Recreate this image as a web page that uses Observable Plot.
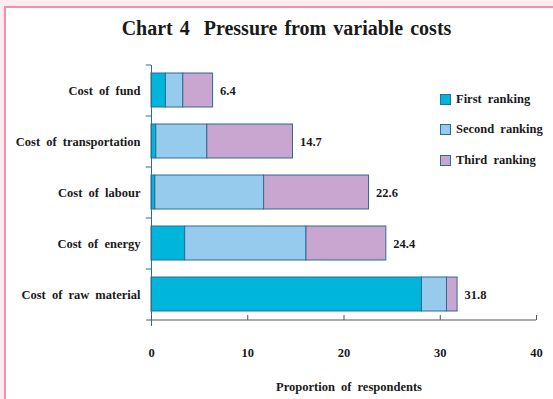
<!DOCTYPE html>
<html><head><meta charset="utf-8">
<script src="https://cdn.jsdelivr.net/npm/d3@7"></script>
<script src="https://cdn.jsdelivr.net/npm/@observablehq/plot@0.6"></script>
<style>
body{margin:0;background:#fdecf0;}
#page{position:relative;width:553px;height:399px;overflow:hidden;background:#fdecf0;font-family:"Liberation Serif","Times New Roman",serif;font-weight:bold;color:#1a1a1a;}
#frame{position:absolute;left:4px;top:6px;width:549px;height:393px;border-left:2px solid #f28fab;border-top:2px solid #f28fab;background:#fff;}
#title{position:absolute;left:7px;top:10px;width:547px;text-align:center;font-size:20px;line-height:20px;word-spacing:2px;}
#chart{position:absolute;left:0;top:0;}
#legend{position:absolute;left:434px;top:76px;font-size:12.5px;word-spacing:3px;}
.row{display:flex;align-items:center;height:30.5px;}
.sw{width:11px;height:11px;border:1px solid #2b6d94;margin-right:5px;box-sizing:border-box;}
#xlabel{position:absolute;left:243px;top:372px;width:200px;text-align:center;font-size:12.5px;word-spacing:3px;}
</style></head>
<body><div id="page"><div id="frame">
<div id="chart"></div>
<div id="title">Chart 4&nbsp; Pressure from variable costs</div>
<div id="legend"></div>
<div id="xlabel">Proportion of respondents</div>
</div></div>
<script>
const categories = ["Cost of fund","Cost of transportation","Cost of labour","Cost of energy","Cost of raw material"];
const series = ["First ranking","Second ranking","Third ranking"];
const first  = [1.5, 0.5, 0.4, 3.5, 28.1];
const second = [1.8, 5.3, 11.3, 12.6, 2.6];
const third  = [3.1, 8.9, 10.9, 8.3, 1.1];
const totals = [6.4, 14.7, 22.6, 24.4, 31.8];
const xTicks = [0, 10, 20, 30, 40];
const colors = ["#00b5dc", "#97cbee", "#c9a6cf"];

const seriesValues = [first, second, third];
const data = [];
categories.forEach((c, i) => series.forEach((s, k) => data.push({cat: c, rank: s, value: seriesValues[k][i]})));
const totalData = categories.map((c, i) => ({cat: c, total: totals[i]}));

const W = 547, H = 391, mL = 145, mR = 17, mT = 57, mB = 79;
const step = (H - mT - mB) / categories.length;
const lineBlue = "#2b6d94", axisGray = "#555";

const chart = Plot.plot({
  width: W, height: H,
  marginLeft: mL, marginRight: mR, marginTop: mT, marginBottom: mB,
  style: {fontFamily: '"Liberation Serif","Times New Roman",serif', fontWeight: "bold", fontSize: "12.5px", color: "#1a1a1a", background: "transparent", wordSpacing: "3px"},
  x: {domain: [0, 40]},
  y: {domain: categories, paddingInner: 1/3, paddingOuter: 1/6},
  color: {domain: series, range: colors},
  marks: [
    Plot.barX(data, {x: "value", y: "cat", fill: "rank", stroke: lineBlue, strokeWidth: 1}),
    Plot.text(totalData, {x: "total", y: "cat", text: d => d.total.toFixed(1), textAnchor: "start", dx: 7}),
    Plot.axisY({tickSize: 0, tickPadding: 11, label: null}),
    Plot.axisX({ticks: xTicks, tickSize: 0, tickPadding: 28, label: null, tickFormat: d => String(d)}),
    Plot.ruleX([0], {stroke: lineBlue, insetBottom: -6}),
    Plot.ruleY(categories, {y: d => d, x1: -0.55, x2: 0, dy: -step / 2, stroke: lineBlue}),
    Plot.ruleY([categories[categories.length - 1]], {y: d => d, x1: -0.5, x2: 40, dy: step / 2, stroke: axisGray}),
    Plot.ruleX(xTicks, {x: d => d, insetTop: (H - mT - mB) - 5, stroke: axisGray})
  ]
});
document.getElementById("chart").appendChild(chart);

const legend = document.getElementById("legend");
series.forEach((s, k) => {
  const row = document.createElement("div");
  row.className = "row";
  const sw = document.createElement("div");
  sw.className = "sw";
  sw.style.background = colors[k];
  const t = document.createElement("span");
  t.textContent = s;
  row.appendChild(sw); row.appendChild(t);
  legend.appendChild(row);
});
</script>
</body></html>
